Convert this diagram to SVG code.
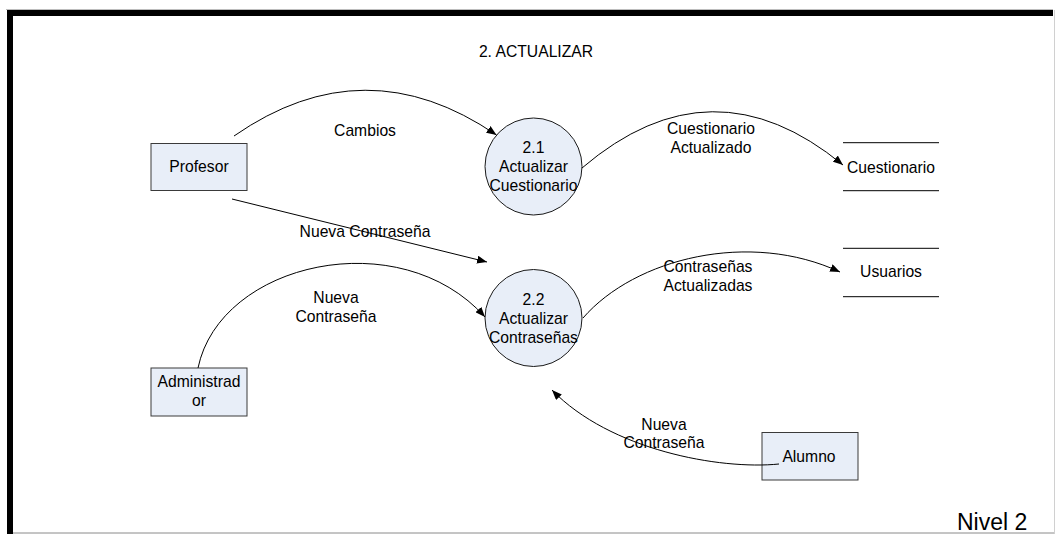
<svg xmlns="http://www.w3.org/2000/svg" width="1055" height="534" viewBox="0 0 1055 534">
  <style>
    text { font-family: "Liberation Sans", Arial, sans-serif; font-size: 15.7px; fill: #000; text-anchor: middle; }
    .entity { fill: #e8eef8; stroke: #3a3a3a; stroke-width: 1; }
    .process { fill: #e8eef8; stroke: #1a1a1a; stroke-width: 1; }
    .store { stroke: #000; stroke-width: 1; fill: none; }
    .flow { fill: none; stroke: #000; stroke-width: 1; marker-end: url(#arrow); }
  </style>
  <defs>
    <marker id="arrow" viewBox="0 0 10 8" refX="10" refY="4" markerWidth="10" markerHeight="8" markerUnits="userSpaceOnUse" orient="auto">
      <path d="M0,0 L10,4 L0,8 Z" fill="#000"/>
    </marker>
  </defs>

  <!-- page frame -->
  <rect x="0" y="0" width="1055" height="534" fill="#fff"/>
  <line x1="6" y1="9.5" x2="1053" y2="9.5" stroke="#bdbdbd" stroke-width="1"/>
  <rect x="7" y="10" width="1046" height="6" fill="#000"/>
  <rect x="7" y="10" width="6" height="524" fill="#000"/>
  <line x1="13" y1="533" x2="1055" y2="533" stroke="#8a8a8a" stroke-width="1"/>
  <line x1="1054.5" y1="10" x2="1054.5" y2="534" stroke="#d0d0d0" stroke-width="1"/>

  <text x="536" y="56.5">2. ACTUALIZAR</text>

  <!-- external entities -->
  <g id="profesor">
    <rect class="entity" x="151" y="143.5" width="96" height="47"/>
    <text x="199" y="172">Profesor</text>
  </g>
  <g id="administrador">
    <rect class="entity" x="151" y="368" width="96" height="48"/>
    <text x="199" y="386.7">Administrad</text>
    <text x="199" y="405.5">or</text>
  </g>
  <g id="alumno">
    <rect class="entity" x="762" y="432.5" width="96" height="47.5"/>
    <text x="809" y="461.7">Alumno</text>
  </g>

  <!-- processes -->
  <g id="proceso-2-1">
    <circle class="process" cx="533.5" cy="166.5" r="48.5"/>
    <text x="533.5" y="153">2.1</text>
    <text x="533.5" y="172">Actualizar</text>
    <text x="533.5" y="191">Cuestionario</text>
  </g>
  <g id="proceso-2-2">
    <circle class="process" cx="533.5" cy="318" r="48.5"/>
    <text x="533.5" y="305">2.2</text>
    <text x="533.5" y="324">Actualizar</text>
    <text x="533.5" y="343">Contraseñas</text>
  </g>

  <!-- data stores -->
  <g id="almacen-cuestionario">
    <line class="store" x1="843" y1="142.7" x2="939" y2="142.7"/>
    <line class="store" x1="843" y1="190.7" x2="939" y2="190.7"/>
    <text x="891" y="172.7">Cuestionario</text>
  </g>
  <g id="almacen-usuarios">
    <line class="store" x1="843" y1="248.3" x2="939" y2="248.3"/>
    <line class="store" x1="843" y1="296.7" x2="939" y2="296.7"/>
    <text x="891" y="276.7">Usuarios</text>
  </g>

  <!-- data flows -->
  <g id="connectors">
    <path class="flow" d="M234,136 Q365,45 496.5,135"/>
    <path class="flow" d="M232,199 L487,262"/>
    <path class="flow" d="M582,168 Q712,57 843,165"/>
    <path class="flow" d="M583,318 C635,258 750,230 840,272"/>
    <path class="flow" d="M198,368 C220,262 400,222 485,317"/>
    <path class="flow" d="M779,464 C720,470 610,450 552,390"/>
    <text x="365" y="136">Cambios</text>
    <text x="365" y="236.7">Nueva Contraseña</text>
    <text x="711" y="134">Cuestionario</text>
    <text x="711" y="152.7">Actualizado</text>
    <text x="708" y="271.7">Contraseñas</text>
    <text x="708" y="290.7">Actualizadas</text>
    <text x="336" y="303.3">Nueva</text>
    <text x="336" y="322.3">Contraseña</text>
    <text x="664" y="430">Nueva</text>
    <text x="664" y="448.3">Contraseña</text>
  </g>

  <text x="957" y="530" style="font-size:23px;text-anchor:start">Nivel 2</text>
</svg>
